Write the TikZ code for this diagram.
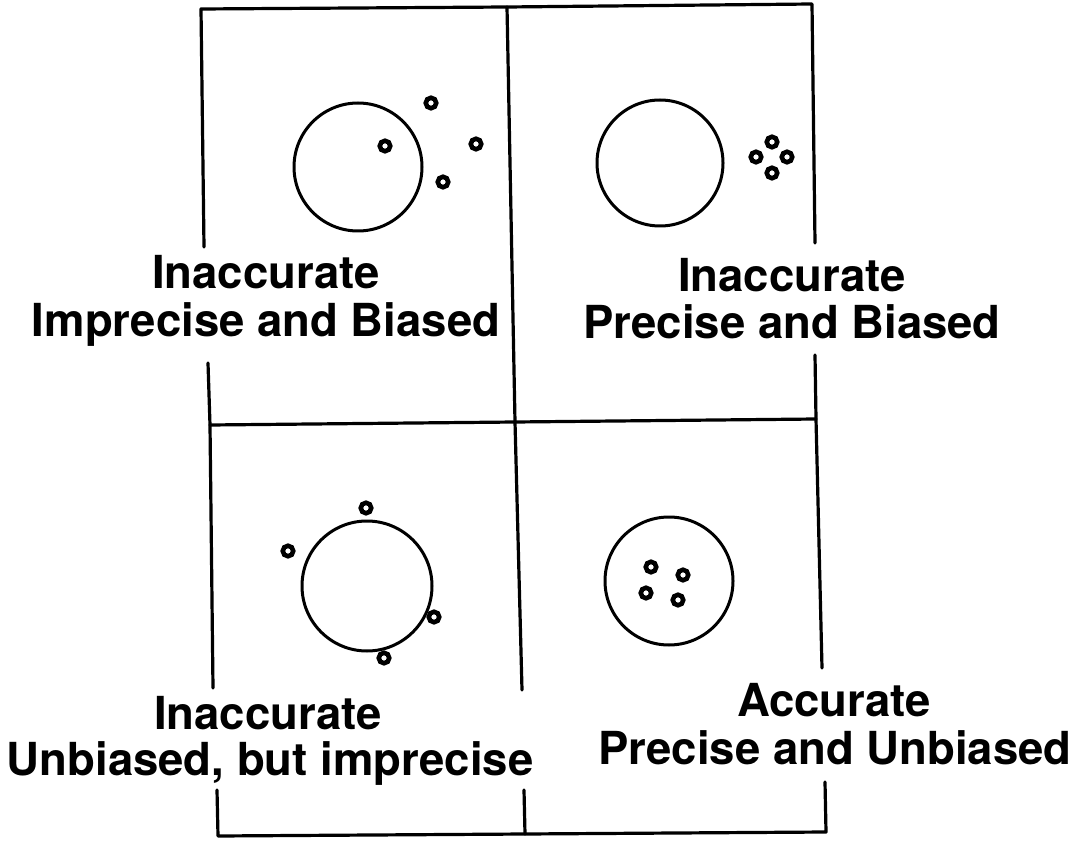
\documentclass[tikz,border=0pt]{standalone}
\usepackage{fontspec}
\setmainfont{TeX Gyre Heros}
\begin{document}
\begin{tikzpicture}[x=1pt,y=-1pt,
  frame/.style={line width=3.2pt,line cap=round,line join=round},
  target/.style={circle,draw,line width=3pt,inner sep=0pt},
  shot/.style={circle,draw,line width=4.6pt,minimum size=10.5pt,inner sep=0pt},
  lbl/.style={anchor=base,inner sep=0pt,font=\fontsize{45.5}{47}\selectfont\bfseries}]
\useasboundingbox (0,0) rectangle (1076,842);
% frame corner / junction coordinates
\coordinate (tl) at (201,9);
\coordinate (tm) at (507,7);
\coordinate (tr) at (812,4);
\coordinate (l1) at (204,247);
\coordinate (l2) at (208,363);
\coordinate (ml) at (210,425);
\coordinate (l3) at (213,688);
\coordinate (l4) at (217,790);
\coordinate (bl) at (218,836);
\coordinate (mm) at (515,422);
\coordinate (m3) at (522,690);
\coordinate (m4) at (524,790);
\coordinate (bm) at (525,834);
\coordinate (r1) at (815,243);
\coordinate (r2) at (815,355);
\coordinate (mr) at (816,419);
\coordinate (r3) at (822,668);
\coordinate (r4) at (825,782);
\coordinate (br) at (826,832);
% frame lines
\draw[frame] (l1) -- (tl) -- (tm) -- (tr) -- (r1);
\draw[frame] (tm) -- (mm) -- (m3);
\draw[frame] (l2) -- (ml) -- (l3);
\draw[frame] (ml) -- (mm) -- (mr);
\draw[frame] (r2) -- (mr) -- (r3);
\draw[frame] (l4) -- (bl) -- (bm) -- (br) -- (r4);
\draw[frame] (m4) -- (bm);
% panel 1
\node[target,minimum size=128pt] (c1) at (358,167) {};
\node[shot] (s11) at (431,103) {};
\node[shot] (s12) at (385,146) {};
\node[shot] (s13) at (476,144) {};
\node[shot] (s14) at (443,182) {};
\node[lbl] (t11) at (266,289) {Inaccurate};
\node[lbl] (t12) at (266,336) {Imprecise and Biased};
% panel 2
\node[target,minimum size=126pt] (c2) at (660,163) {};
\node[shot] (s21) at (772,142) {};
\node[shot] (s22) at (756,157) {};
\node[shot] (s23) at (787,157) {};
\node[shot] (s24) at (772,173) {};
\node[lbl] (t21) at (792,292) {Inaccurate};
\node[lbl] (t22) at (792,338) {Precise and Biased};
% panel 3
\node[target,minimum size=130pt] (c3) at (367,586) {};
\node[shot] (s31) at (366,508) {};
\node[shot] (s32) at (288,551) {};
\node[shot] (s33) at (434,617) {};
\node[shot] (s34) at (384,658) {};
\node[lbl] (t31) at (268,729) {Inaccurate};
\node[lbl] (t32) at (270,775) {Unbiased, but imprecise};
% panel 4
\node[target,minimum size=128pt] (c4) at (669,581) {};
\node[shot] (s41) at (651,567) {};
\node[shot] (s42) at (683,575) {};
\node[shot] (s43) at (646,593) {};
\node[shot] (s44) at (678,600) {};
\node[lbl] (t41) at (834,716) {Accurate};
\node[lbl] (t42) at (835,764) {Precise and Unbiased};
\end{tikzpicture}
\end{document}
